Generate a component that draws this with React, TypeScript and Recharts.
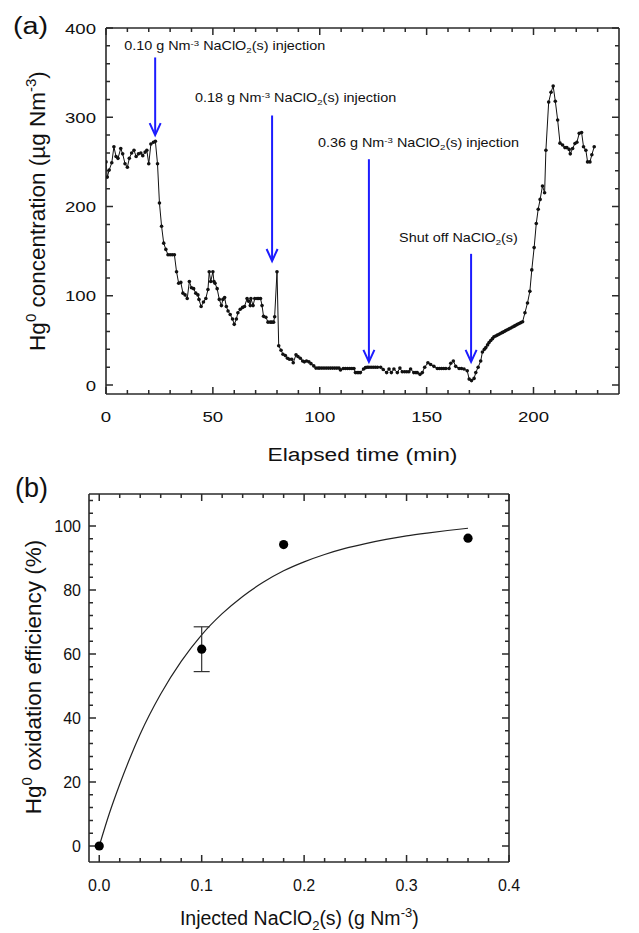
import { LineChart, Line, XAxis, YAxis, ReferenceLine, ComposedChart, Scatter, ErrorBar } from 'recharts'

const FONT = "'Liberation Sans', Arial, Helvetica, sans-serif"
const INK = '#111'
const FRAME = '#2a2a2a'
const BLUE = '#1c1cff'

// (a) Hg0 at the outlet, [elapsed min, ug/Nm3], split by run phase
const baselineRun = [
  [0, 250], [0.6, 233], [1.5, 241], [2.7, 249], [3.7, 267], [4.7, 256], [5.6, 254], [6.9, 265],
  [7.8, 259], [8.9, 248], [10, 244], [10.9, 254], [12, 260], [13.1, 263], [14.1, 256], [15.2, 259],
  [16.3, 260], [17.2, 257], [18.3, 261], [19.1, 263], [20, 248], [21, 270], [22.2, 272], [23.1, 273],
]
const dose010 = [
  [24.1, 248], [25, 204], [26, 178], [27, 159], [28, 152], [29, 146], [30, 146], [31, 146], [32, 146],
  [33, 127], [34, 114], [35, 115], [36, 103], [37, 101], [38, 97], [39, 116], [40, 109], [41, 108],
  [42, 103], [43, 101], [43.5, 96], [44.5, 88], [45.6, 93], [46.7, 97], [47.7, 107], [48.3, 127],
  [49, 116], [50, 127], [50.5, 116], [51, 114], [52, 108], [53, 96], [54, 89], [54.7, 96], [55.5, 98],
  [56.3, 88], [57.1, 83], [58.1, 79], [59.2, 74], [60, 68], [61, 74], [61.7, 81], [62.8, 85],
  [63.9, 87], [64.8, 88], [66, 97], [66.7, 94], [67.5, 89], [67.8, 97], [68.8, 89], [69.6, 97],
  [70.7, 97], [71.5, 97], [72.3, 97], [73, 89], [73.7, 77], [74.8, 76], [75.8, 70.5], [76.9, 70.5],
  [77.6, 70.5], [78.4, 70.5], [78.9, 76.5],
]
const dose018 = [
  [80, 127], [80.8, 44], [81.9, 39], [82.8, 34.5], [83.9, 33], [84.9, 30], [85.8, 29], [86.9, 29],
  [87.6, 25], [88.9, 34], [89.8, 32], [90.9, 30], [92, 27], [92.8, 26], [93.8, 27], [94.9, 26],
  [95.9, 24], [97.2, 21.5], [98.2, 19], [99.2, 19], [100, 19], [101, 19], [102, 19], [103, 19],
  [104, 19], [105, 19], [106, 19], [107, 19], [108, 19], [109, 19], [109.7, 17], [111, 18.5],
  [112, 18.5], [113, 18.5], [114, 18.5], [115, 18.5], [116, 18.5], [116.7, 14], [117.5, 14],
  [118.3, 14], [119, 14], [120.5, 18], [121.4, 19.5], [122.2, 20],
]
const dose036 = [
  [123, 20], [124, 20], [125, 20], [126, 20], [127, 20], [128.5, 20], [129.7, 17.5], [131.3, 14],
  [132.4, 18], [133.5, 14], [134.7, 18], [136.3, 14], [137.5, 19], [138.6, 15], [139.7, 15],
  [140.7, 15], [141.7, 15], [142.5, 18], [144, 14], [145, 14], [145.6, 14], [146.9, 12], [148, 14],
  [149.1, 20], [150.6, 25], [151.9, 23], [153.4, 21], [155, 18.5], [156, 18.5], [157, 18.5],
  [158, 18.5], [159, 18.5], [160.5, 18.5], [161.3, 24.5], [162.5, 27], [163.6, 21], [165.2, 18.5],
  [166.3, 18.5], [167.5, 18], [169, 16], [169.9, 6.7],
]
const afterShutoff = [
  [171, 5], [172.2, 7.5], [173, 14], [174.1, 20], [175.3, 27], [176.1, 37], [177, 40], [177.7, 42],
  [178.5, 45], [179.2, 47.6], [180, 50], [180.8, 52], [181.5, 54], [182.3, 55], [183.1, 56],
  [183.9, 57], [184.7, 58], [185.5, 59], [186.3, 60], [187, 61], [187.8, 62], [188.6, 63],
  [189.4, 64], [190.2, 65], [191, 66], [191.7, 67], [192.5, 68], [193.3, 69], [194.1, 70],
  [194.9, 71], [196, 81], [197.2, 92], [198.3, 105], [199.2, 129], [200.3, 154], [201.3, 181],
  [202.2, 197], [203.1, 208], [204.2, 223], [205.2, 215.5], [205.8, 263], [207.1, 317],
  [208.2, 328], [209.2, 335], [210.2, 318], [211.3, 297], [212.4, 271], [213.6, 269], [214.7, 266],
  [215.6, 266], [216.7, 264], [217.2, 259], [218.3, 265], [219.4, 270.6], [220.3, 272], [221.4, 282],
  [222.5, 283], [223.4, 267], [224.5, 263], [225.3, 250], [226.4, 250], [227.3, 258], [228.4, 267],
]

const timeTicks = [0, 50, 100, 150, 200]
const timeAllTicks = Array.from({ length: 24 }, (_, i) => i * 10)
const concTicks = [0, 100, 200, 300, 400]
const concAllTicks = Array.from({ length: 21 }, (_, i) => i * 20)

// injection / shut-off arrows: time, arrow top, arrow tip
const arrowTime = [23, 77.7, 123, 170.8]
const arrowTop = [367, 302, 253, 147]
const arrowTip = [280, 139, 26, 26]
const arrowDose = ['0.10', '0.18', '0.36', '']
const labelDx = [-31, -77, -51, -72]
const labelDy = [-7, -13, -12, -12]

// (b) oxidation efficiency vs injected dose
const doseX = [0, 0.1, 0.18, 0.36]
const efficiency = [0, 61.5, 94.2, 96.2]
const efficiencyErr = [0, 7, 0, 0]
const fitX = [0, 0.01, 0.02, 0.03, 0.04, 0.06, 0.08, 0.1, 0.12, 0.14, 0.16, 0.18, 0.2, 0.22, 0.24, 0.26, 0.28, 0.3, 0.32, 0.34, 0.36]
const fitY = [0, 10.3, 19.3, 27.5, 35, 47.5, 57.7, 66, 72.6, 78, 82.4, 86, 88.8, 91.1, 93, 94.5, 95.8, 96.9, 97.8, 98.6, 99.3]

const doseTicks = [0, 0.1, 0.2, 0.3, 0.4]
const doseAllTicks = Array.from({ length: 21 }, (_, i) => +(i * 0.02).toFixed(2))
const effTicks = [0, 20, 40, 60, 80, 100]
const effAllTicks = Array.from({ length: 28 }, (_, i) => i * 4)

const hgData = [...baselineRun, ...dose010, ...dose018, ...dose036, ...afterShutoff].map(([t, v]) => ({ t, v }))
const effData = doseX.map((x, i) => ({ x, y: efficiency[i], err: efficiencyErr[i] }))
const fitData = fitX.map((x, i) => ({ x, y: fitY[i] }))

const MINOR = 4
const MAJOR = 7
const isMajor = (majors: number[], v: number) => majors.some((m) => Math.abs(m - v) < 1e-9)

// inward frame ticks: a reference line across the plot, drawn only as short
// marks at its two ends
function FrameMarks(props: any) {
  const { x1, y1, x2, y2, len } = props
  let d = ''
  if (Math.abs(x1 - x2) < 0.5) {
    const lo = Math.max(y1, y2)
    const hi = Math.min(y1, y2)
    d = `M${x1},${lo}V${lo - len}M${x1},${hi}V${hi + len}`
  } else {
    const l = Math.min(x1, x2)
    const r = Math.max(x1, x2)
    d = `M${l},${y1}H${l + len}M${r},${y1}H${r - len}`
  }
  return <path d={d} stroke={FRAME} strokeWidth={1.5} fill="none" />
}

type TickText = { size: number; sx: number; anchor: 'end' | 'middle'; fmt?: (v: number) => string }

function tickLabel(majors: number[], text: TickText) {
  return (p: any) => {
    const v = p.payload.value
    if (!isMajor(majors, v)) return <g />
    return (
      <text
        transform={`translate(${p.x},${p.y}) scale(${text.sx},1)`}
        textAnchor={text.anchor}
        dy="0.36em"
        fontSize={text.size}
        fontFamily={FONT}
        fill={INK}
      >
        {text.fmt ? text.fmt(v) : String(v)}
      </text>
    )
  }
}

const noLabel = () => <g />

function Arrow(props: any) {
  const { x1, y1, y2, i } = props
  const top = Math.min(y1, y2)
  const tip = Math.max(y1, y2)
  const dose = arrowDose[i]
  return (
    <g>
      <line x1={x1} y1={top} x2={x1} y2={tip - 1} stroke={BLUE} strokeWidth={2} />
      <polyline
        points={`${x1 - 5.5},${tip - 12} ${x1},${tip} ${x1 + 5.5},${tip - 12}`}
        fill="none"
        stroke={BLUE}
        strokeWidth={2}
      />
      <text
        transform={`translate(${x1 + labelDx[i]},${top + labelDy[i]}) scale(1.2,1)`}
        fontSize={12}
        fontFamily={FONT}
        fill={INK}
      >
        {dose ? (
          <>
            {dose} g Nm<tspan dy={-4.5} fontSize={8}>-3</tspan>
            <tspan dy={4.5}> NaClO</tspan>
            <tspan dy={3} fontSize={8}>2</tspan>
            <tspan dy={-3}>(s) injection</tspan>
          </>
        ) : (
          <>
            Shut off NaClO<tspan dy={3} fontSize={8}>2</tspan>
            <tspan dy={-3}>(s)</tspan>
          </>
        )}
      </text>
    </g>
  )
}

const frameLine = { stroke: FRAME, strokeWidth: 1.6 }
const overlay = { position: 'absolute' as const, left: 0, top: 0 }

function PanelA() {
  return (
    <div style={{ position: 'absolute', left: 0, top: 0, width: 639, height: 470 }}>
      <svg width={639} height={470} style={overlay}>
        <text transform="translate(13,34) scale(1.25,1)" fontSize={23} fontFamily={FONT} fill={INK}>(a)</text>
        <text transform="translate(362.5,461) scale(1.2,1)" textAnchor="middle" fontSize={19} fontFamily={FONT} fill={INK}>
          Elapsed time (min)
        </text>
        <text transform="translate(45,211) rotate(-90)" textAnchor="middle" fontSize={22.5} fontFamily={FONT} fill={INK}>
          Hg<tspan dy={-9} fontSize={15}>0</tspan>
          <tspan dy={9}> concentration (µg Nm</tspan>
          <tspan dy={-9} fontSize={15}>-3</tspan>
          <tspan dy={9}>)</tspan>
        </text>
      </svg>
      <LineChart width={639} height={470} data={hgData} margin={{ top: 0, right: 0, bottom: 0, left: 0 }}>
        <XAxis
          xAxisId="t" dataKey="t" type="number" domain={[0, 240]} allowDataOverflow
          ticks={timeTicks} interval={0} height={76} tickSize={0} tickMargin={22}
          tickLine={false} axisLine={frameLine}
          tick={tickLabel(timeTicks, { size: 15.5, sx: 1.2, anchor: 'middle' })}
        />
        <XAxis
          xAxisId="tTop" dataKey="t" type="number" orientation="top" domain={[0, 240]} allowDataOverflow
          ticks={timeTicks} interval={0} height={28} tickSize={0} tickLine={false} axisLine={frameLine} tick={noLabel}
        />
        <YAxis
          yAxisId="c" type="number" domain={[-10, 400]} allowDataOverflow
          ticks={concTicks} interval={0} width={106} tickSize={0} tickMargin={10}
          tickLine={false} axisLine={frameLine}
          tick={tickLabel(concTicks, { size: 15.5, sx: 1.2, anchor: 'end' })}
        />
        <YAxis
          yAxisId="cR" type="number" orientation="right" domain={[-10, 400]} allowDataOverflow
          ticks={concTicks} interval={0} width={20} tickSize={0} tickLine={false} axisLine={frameLine} tick={noLabel}
        />
        {timeAllTicks.map((t) => (
          <ReferenceLine
            key={`tx${t}`} xAxisId="t" yAxisId="c" x={t}
            shape={(p: any) => <FrameMarks {...p} len={isMajor(timeTicks, t) ? MAJOR : MINOR} />}
          />
        ))}
        {concAllTicks.map((c) => (
          <ReferenceLine
            key={`cy${c}`} xAxisId="t" yAxisId="c" y={c}
            shape={(p: any) => <FrameMarks {...p} len={isMajor(concTicks, c) ? MAJOR : MINOR} />}
          />
        ))}
        {arrowTime.map((t, i) => (
          <ReferenceLine
            key={i}
            xAxisId="t"
            yAxisId="c"
            segment={[{ x: t, y: arrowTop[i] }, { x: t, y: arrowTip[i] }]}
            shape={(p: any) => <Arrow {...p} i={i} />}
          />
        ))}
        <Line
          xAxisId="t" yAxisId="c" dataKey="v" type="linear"
          stroke={INK} strokeWidth={1}
          dot={{ r: 1.8, fill: INK, stroke: INK, strokeWidth: 0 }}
          isAnimationActive={false}
        />
      </LineChart>
    </div>
  )
}

function PanelB() {
  return (
    <div style={{ position: 'absolute', left: 0, top: 470, width: 639, height: 463 }}>
      <svg width={639} height={463} style={overlay}>
        <text x={15} y={27} fontSize={27} fontFamily={FONT} fill={INK}>(b)</text>
        <text x={299.3} y={455} textAnchor="middle" fontSize={19.5} fontFamily={FONT} fill={INK}>
          Injected NaClO<tspan dy={5} fontSize={13}>2</tspan>
          <tspan dy={-5}>(s) (g Nm</tspan>
          <tspan dy={-8} fontSize={13}>-3</tspan>
          <tspan dy={8}>)</tspan>
        </text>
        <text transform="translate(41,207) rotate(-90)" textAnchor="middle" fontSize={22.5} fontFamily={FONT} fill={INK}>
          Hg<tspan dy={-9} fontSize={15}>0</tspan>
          <tspan dy={9}> oxidation efficiency (%)</tspan>
        </text>
      </svg>
      <ComposedChart width={639} height={463} margin={{ top: 0, right: 0, bottom: 0, left: 0 }}>
        <XAxis
          xAxisId="d" dataKey="x" type="number" domain={[-0.01, 0.4]} allowDataOverflow
          ticks={doseTicks} interval={0} height={71} tickSize={0} tickMargin={23}
          tickLine={false} axisLine={frameLine}
          tick={tickLabel(doseTicks, { size: 16, sx: 1, anchor: 'middle', fmt: (v) => v.toFixed(1) })}
        />
        <XAxis
          xAxisId="dTop" dataKey="x" type="number" orientation="top" domain={[-0.01, 0.4]} allowDataOverflow
          ticks={doseTicks} interval={0} height={24} tickSize={0} tickLine={false} axisLine={frameLine} tick={noLabel}
        />
        <YAxis
          yAxisId="e" type="number" domain={[-5, 110]} allowDataOverflow
          ticks={effTicks} interval={0} width={89} tickSize={0} tickMargin={8}
          tickLine={false} axisLine={frameLine}
          tick={tickLabel(effTicks, { size: 16, sx: 1, anchor: 'end' })}
        />
        <YAxis
          yAxisId="eR" type="number" orientation="right" domain={[-5, 110]} allowDataOverflow
          ticks={effTicks} interval={0} width={130} tickSize={0} tickLine={false} axisLine={frameLine} tick={noLabel}
        />
        {doseAllTicks.map((d) => (
          <ReferenceLine
            key={`dx${d}`} xAxisId="d" yAxisId="e" x={d}
            shape={(p: any) => <FrameMarks {...p} len={isMajor(doseTicks, d) ? MAJOR : MINOR} />}
          />
        ))}
        {effAllTicks.map((e) => (
          <ReferenceLine
            key={`ey${e}`} xAxisId="d" yAxisId="e" y={e}
            shape={(p: any) => <FrameMarks {...p} len={isMajor(effTicks, e) ? MAJOR : MINOR} />}
          />
        ))}
        <Line
          xAxisId="d" yAxisId="e" data={fitData} dataKey="y" type="monotone"
          stroke="#222" strokeWidth={1.2} dot={false} isAnimationActive={false}
        />
        <Scatter
          xAxisId="d" yAxisId="e" data={effData} dataKey="y"
          shape={(p: any) => <circle cx={p.cx} cy={p.cy} r={4.6} fill="#000" />}
          isAnimationActive={false}
        >
          <ErrorBar dataKey="err" direction="y" width={8} stroke="#333" strokeWidth={1.2} isAnimationActive={false} />
        </Scatter>
      </ComposedChart>
    </div>
  )
}

export default function App() {
  return (
    <div style={{ position: 'absolute', left: 0, top: 0, width: 639, height: 933, background: '#fff' }}>
      <PanelA />
      <PanelB />
    </div>
  )
}
